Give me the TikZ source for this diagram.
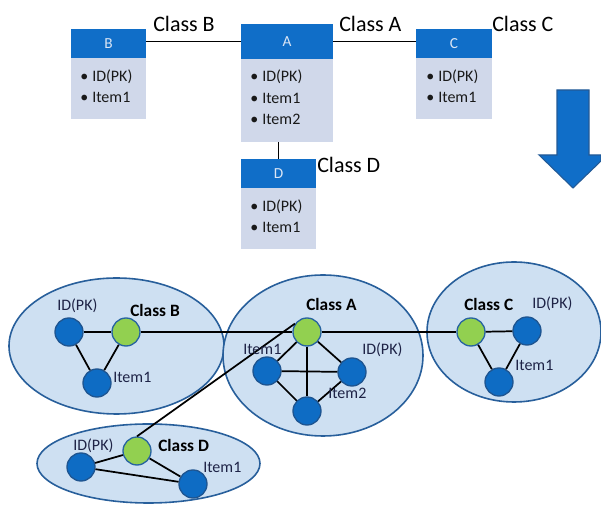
\documentclass[tikz,border=0pt]{standalone}
\usepackage{fontspec}
\setmainfont{Carlito}
\definecolor{hdrblue}{RGB}{16,110,200}
\definecolor{hdrtext}{RGB}{220,230,245}
\definecolor{bodyfill}{RGB}{208,216,234}
\definecolor{itemtext}{RGB}{25,25,25}
\definecolor{arrowborder}{RGB}{35,90,150}
\definecolor{ellfill}{RGB}{206,224,242}
\definecolor{ellborder}{RGB}{40,95,155}
\definecolor{nodeblue}{RGB}{14,108,196}
\definecolor{nodeborder}{RGB}{30,85,145}
\definecolor{nodegreen}{RGB}{146,208,80}
\definecolor{greenborder}{RGB}{40,100,160}
\definecolor{lbltext}{RGB}{30,35,70}
\begin{document}
\begin{tikzpicture}[x=0.75pt,y=-0.75pt,
  hdr/.style={fill=hdrblue, inner sep=0pt, outer sep=0pt, anchor=north west, text=hdrtext, font=\fontsize{11.5}{13}\selectfont},
  bodybox/.style={fill=bodyfill, inner sep=0pt, outer sep=0pt, anchor=north west},
  item/.style={anchor=base west, inner sep=0pt, font=\fontsize{12}{14}\selectfont, text=itemtext},
  toplabel/.style={anchor=base west, inner sep=0pt, font=\fontsize{16.5}{18}\selectfont},
  link/.style={draw=black, line width=1.3pt},
  cluster/.style={fill=ellfill, draw=ellborder, line width=1.2pt},
  attr/.style={circle, fill=nodeblue, draw=nodeborder, line width=1pt, minimum size=21pt, inner sep=0pt},
  cls/.style={attr, fill=nodegreen, draw=greenborder},
  lbl/.style={anchor=base west, inner sep=0pt, font=\fontsize{12}{14}\selectfont, text=lbltext},
  blbl/.style={anchor=base west, inner sep=0pt, font=\fontsize{13}{15}\selectfont\bfseries},
]
\useasboundingbox (0,0) rectangle (601,505);

% ---- top: tables ----
\node[hdr, minimum width=56.25pt, minimum height=21.75pt] (Bh) at (71,29) {B};
\node[bodybox, minimum width=56.25pt, minimum height=45.75pt] (Bb) at (71,58) {};
\node[hdr, minimum width=69pt, minimum height=26.25pt] (Ah) at (241,24) {A};
\node[bodybox, minimum width=69pt, minimum height=62.25pt] (Ab) at (241,59) {};
\node[hdr, minimum width=57pt, minimum height=21.75pt] (Ch) at (416,29) {C};
\node[bodybox, minimum width=57pt, minimum height=45.75pt] (Cb) at (416,58) {};
\node[hdr, minimum width=56.25pt, minimum height=21.75pt] (Dh) at (241,159) {D};
\node[bodybox, minimum width=56.25pt, minimum height=45.75pt] (Db) at (241,188) {};

\node[item] (Bt1) at (80,82) {\makebox[9pt][l]{\textbullet}ID(PK)};
\node[item] (Bt2) at (80,103) {\makebox[9pt][l]{\textbullet}Item1};
\node[item] (At1) at (250,82) {\makebox[9pt][l]{\textbullet}ID(PK)};
\node[item] (At2) at (250,103.5) {\makebox[9pt][l]{\textbullet}Item1};
\node[item] (At3) at (250,125) {\makebox[9pt][l]{\textbullet}Item2};
\node[item] (Ct1) at (426,82) {\makebox[9pt][l]{\textbullet}ID(PK)};
\node[item] (Ct2) at (426,103) {\makebox[9pt][l]{\textbullet}Item1};
\node[item] (Dt1) at (250,212) {\makebox[9pt][l]{\textbullet}ID(PK)};
\node[item] (Dt2) at (250,233) {\makebox[9pt][l]{\textbullet}Item1};

\draw[link] (Ah.west) -- (Ah.west -| Bh.east);
\draw[link] (Ah.east) -- (Ah.east -| Ch.west);
\draw[link] (Dh.north) -- (Dh.north |- Ab.south);

\node[toplabel] (LB) at (153,32) {Class B};
\node[toplabel] (LA) at (339,32) {Class A};
\node[toplabel] (LC) at (492,32) {Class C};
\node[toplabel] (LD) at (317,173) {Class D};

% ---- arrow ----
\filldraw[fill=hdrblue, draw=arrowborder, line width=0.8pt]
  (557,90) -- (589,90) -- (589,155) -- (601,155) -- (601,161) -- (573,188) -- (539,155) -- (557,155) -- cycle;

% ---- bottom: clusters ----
\filldraw[cluster] (116.5,346) ellipse [x radius=107.5, y radius=68];
\filldraw[cluster] (323,355.5) ellipse [x radius=100, y radius=80.5];
\filldraw[cluster] (514,332) ellipse [x radius=87, y radius=70];
\filldraw[cluster] (148.5,463.5) ellipse [x radius=111.5, y radius=39.5];

\node[attr] (Bid) at (69,332) {};
\node[cls]  (Bc)  at (126,332) {};
\node[attr] (Bi1) at (97,383) {};
\node[cls]  (Ac)  at (307,332) {};
\node[attr] (Ai1) at (267,371) {};
\node[attr] (Aid) at (352,372) {};
\node[attr] (Ai2) at (307,411) {};
\node[cls]  (Cc)  at (471,332) {};
\node[attr] (Cid) at (527,331) {};
\node[attr] (Ci1) at (499,382) {};
\node[cls]  (Dc)  at (137,451) {};
\node[attr] (Did) at (81,467) {};
\node[attr] (Di1) at (193,484) {};

\draw[link] (Bid) -- (Bc);
\draw[link] (Bid) -- (Bi1);
\draw[link] (Bc) -- (Bi1);
\draw[link] (Bc) -- (Ac);
\draw[link] (Ac) -- (Cc);
\draw[link] (Ac) -- (Ai1);
\draw[link] (Ac) -- (Aid);
\draw[link] (Ac) -- (Ai2);
\draw[link] (Ai1) -- (Aid);
\draw[link] (Ai1) -- (Ai2);
\draw[link] (Aid) -- (Ai2);
\draw[link] (Cc) -- (Cid);
\draw[link] (Cc) -- (Ci1);
\draw[link] (Cid) -- (Ci1);
\draw[link] (Dc) -- (Did);
\draw[link] (Dc) -- (Di1);
\draw[link] (Did) -- (Di1);
\draw[link] (Dc.north) -- (Ac.145);

\node[lbl]  (bB1) at (57,310.5) {ID(PK)};
\node[blbl] (bB2) at (130,316.5) {Class B};
\node[lbl]  (bB3) at (113,382.5) {Item1};
\node[blbl] (bA1) at (306,311) {Class A};
\node[lbl]  (bA2) at (243,355) {Item1};
\node[lbl]  (bA3) at (362,355) {ID(PK)};
\node[lbl]  (bA4) at (328,399) {Item2};
\node[blbl] (bC1) at (464,311) {Class C};
\node[lbl]  (bC2) at (532,309) {ID(PK)};
\node[lbl]  (bC3) at (515,371) {Item1};
\node[lbl]  (bD1) at (73,450.5) {ID(PK)};
\node[blbl] (bD2) at (158,451.5) {Class D};
\node[lbl]  (bD3) at (203,473) {Item1};
\end{tikzpicture}
\end{document}
